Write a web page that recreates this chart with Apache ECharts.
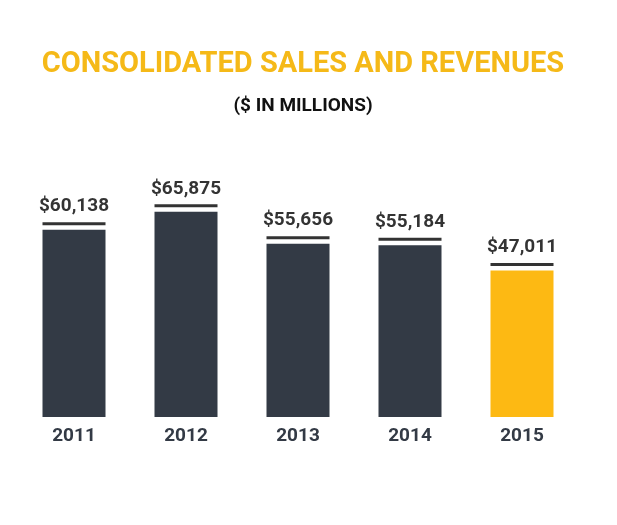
<!DOCTYPE html>
<html><head><meta charset="utf-8">
<script src="https://cdn.jsdelivr.net/npm/echarts@6/dist/echarts.min.js"></script>
<style>html,body{margin:0;padding:0;background:#fff}#c{width:617px;height:525px}</style>
</head><body><div id="c"></div>
<script>
var years = ['2011', '2012', '2013', '2014', '2015'];
var sales = [60138, 65875, 55656, 55184, 47011];
var barColors = ['#333a45', '#333a45', '#333a45', '#333a45', '#fdb913'];

var chart = echarts.init(document.getElementById('c'));
chart.setOption({
  animation: false,
  title: [
    { text: 'CONSOLIDATED SALES AND REVENUES', left: 298, top: 45, textAlign: 'center',
      textStyle: { color: '#f5b918', fontSize: 29, fontWeight: 'bold', fontFamily: 'Roboto' } },
    { text: '($ IN MILLIONS)', left: 298, top: 92, textAlign: 'center',
      textStyle: { color: '#111', fontSize: 19, fontWeight: 'bold', fontFamily: 'Roboto' } }
  ],
  grid: { left: 18, right: 39, top: 199, bottom: 108 },
  xAxis: {
    type: 'category', data: years,
    axisLine: { show: false }, axisTick: { show: false },
    axisLabel: { color: '#333a45', fontSize: 19, fontWeight: 'bold', fontFamily: 'Roboto', margin: 10 }
  },
  yAxis: { type: 'value', min: 0, max: 70000, show: false, splitLine: { show: false } },
  series: [
    { type: 'bar', data: sales.map(function (v, i) { return { value: v, itemStyle: { color: barColors[i] } }; }),
      barWidth: 63 },
    { type: 'scatter', data: sales, symbol: 'rect', symbolSize: [63, 3], symbolOffset: [0, -6],
      itemStyle: { color: '#000' },
      label: { show: true, position: 'top', distance: 6, color: '#000', fontSize: 19, fontWeight: 'bold',
        fontFamily: 'Roboto', formatter: function (p) { return '$' + p.value.toLocaleString('en-US'); } } }
  ]
});
</script></body></html>
